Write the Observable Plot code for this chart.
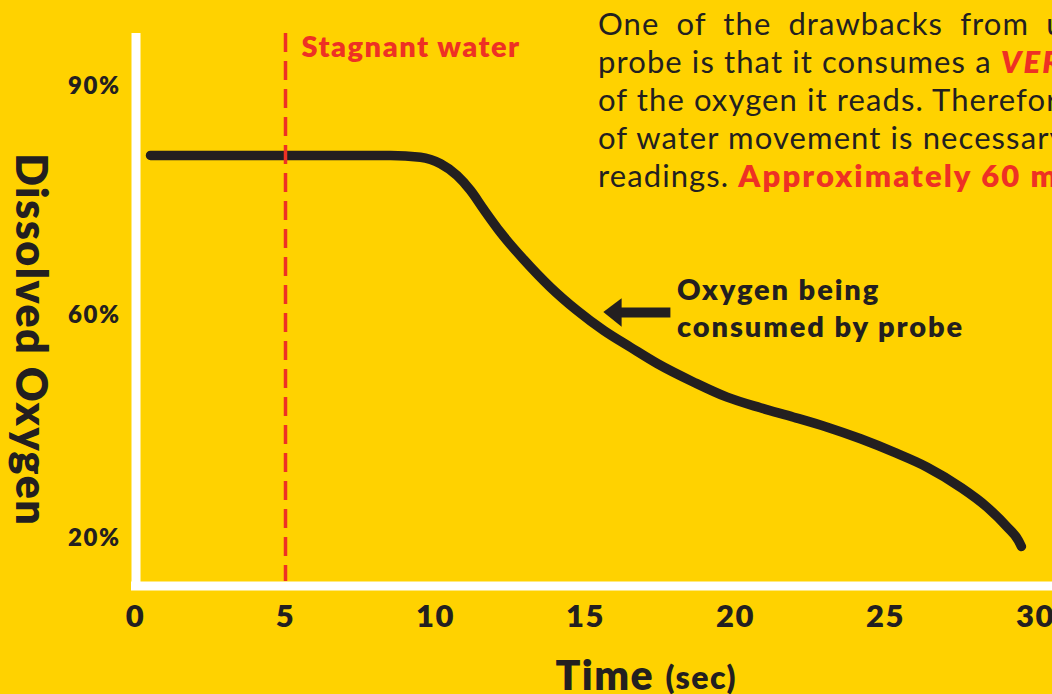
<!DOCTYPE html>
<html>
<head>
<meta charset="utf-8">
<script src="https://cdn.jsdelivr.net/npm/d3@7"></script>
<script src="https://cdn.jsdelivr.net/npm/@observablehq/plot@0.6"></script>
<style>
  html, body { margin: 0; padding: 0; background: #FFD200; overflow: hidden; }
  #wrap { position: relative; width: 1052px; height: 694px; overflow: hidden; background: #FFD200; }
  #chart svg { display: block; }
  .para { position: absolute; left: 598px; top: 4px; font-family: Lato, sans-serif; font-size: 31px; font-weight: 400;
          letter-spacing: 1.1px; color: #231F20; line-height: 38px; white-space: nowrap; }
  .red { color: #EE3124; font-weight: 800; letter-spacing: 2.1px; }
  .anno { position: absolute; left: 677px; top: 270px; font-family: Lato, sans-serif; font-size: 29px; font-weight: 800;
          letter-spacing: 1.9px; color: #231F20; line-height: 37px; white-space: nowrap; }
</style>
</head>
<body>
<div id="wrap">
  <div id="chart"></div>
  <div class="para">
    <div style="word-spacing:8px">One of the drawbacks from using a galvanic</div>
    <div>probe is that it consumes a <span class="red" style="font-style:italic">VERY</span> small amount</div>
    <div>of the oxygen it reads. Therefore a small amount</div>
    <div>of water movement is necessary for accurate</div>
    <div>readings. <span class="red">Approximately 60 ml/min</span></div>
  </div>
  <div class="anno">Oxygen being<br>consumed by probe</div>
</div>
<script>
// ---- data ----
const timeSec   = [0.5, 4.5, 8.5, 9.5, 10.17, 10.72, 11.17, 11.61, 12.17, 12.94, 13.83, 14.72, 15.61, 16.5, 17.39, 18.61, 19.72, 20.83, 21.94, 23.06, 24.17, 25.28, 26.39, 27.5, 28.39, 29.06, 29.43, 29.53];
const oxygenPct = [80.92, 80.92, 80.92, 80.69, 79.83, 78.3, 76.34, 73.86, 70.85, 67.32, 63.7, 60.65, 57.31, 54.31, 51.39, 48.04, 45.35, 43.44, 41.76, 39.96, 37.88, 35.48, 32.79, 29.2, 25.61, 22.03, 19.64, 18.57];
const xTicks = [0, 5, 10, 15, 20, 25, 30];
const yTicks = [20, 60, 90];
const yTickLabels = ["20%", "60%", "90%"];
const stagnantTime = [5];
const stagnantLabel = "Stagnant water";
const xAxisBaseline = [11.5];   // % level where the time axis sits
const yAxisTime = [0];
// annotation arrow (time, %)
const arrowShaft = [{x1: 16.1, x2: 17.83, y: 60.39}];
const arrowHead = [
  {t: 15.61, lo: 60.39, hi: 60.39},
  {t: 16.22, lo: 57.9, hi: 62.2}
];
const yLabel = "Dissolved Oxygen";
const xLabel = "Time";
const xUnit = "(sec)";

const INK = "#231F20", RED = "#EE3124", FONT = "Lato, sans-serif";
const series = timeSec.map((t, i) => ({t, v: oxygenPct[i]}));

const chart = Plot.plot({
  width: 1052,
  height: 694,
  marginTop: 33,
  marginBottom: 108.5,
  marginLeft: 131,
  marginRight: 0,
  style: {background: "transparent", fontFamily: FONT, letterSpacing: "1.5px"},
  x: {domain: [0, 30], range: [135, 1035], axis: null},
  y: {type: "linear", domain: [20, 60, 90], range: [538, 315, 85.5], axis: null},
  marks: [
    Plot.line(series, {x: "t", y: "v", curve: "monotone-x", stroke: INK, strokeWidth: 9.5, strokeLinecap: "round", strokeLinejoin: "round"}),
    Plot.ruleX(stagnantTime, {x: d => d, stroke: RED, strokeWidth: 3.5, strokeDasharray: "19,9", insetBottom: 4.5}),
    Plot.ruleX(yAxisTime, {x: d => d, dx: 0.5, stroke: "#fff", strokeWidth: 9, insetTop: 4.5, strokeLinecap: "square"}),
    Plot.ruleY(xAxisBaseline, {y: d => d, stroke: "#fff", strokeWidth: 9}),
    Plot.link(arrowShaft, {x1: "x1", x2: "x2", y1: "y", y2: "y", stroke: INK, strokeWidth: 10}),
    Plot.areaY(arrowHead, {x: "t", y1: "lo", y2: "hi", fill: INK}),
    Plot.text(xTicks, {x: d => d, frameAnchor: "bottom", lineAnchor: "middle", dy: 31.5, fontSize: 31, fontWeight: 800, fill: INK}),
    Plot.text(yTicks, {y: d => d, text: (d, i) => yTickLabels[i], frameAnchor: "left", textAnchor: "end", lineAnchor: "middle", dx: -11, fontSize: 24, fontWeight: 800, fill: INK}),
    Plot.text([yLabel], {frameAnchor: "left", textAnchor: "middle", lineAnchor: "middle", dx: -102, dy: 30, rotate: 90, fontSize: 43, fontWeight: 800, fill: INK}),
    Plot.text([xLabel], {frameAnchor: "bottom", textAnchor: "start", lineAnchor: "middle", dx: -36.5, dy: 91, fontSize: 41, fontWeight: 800, fill: INK}),
    Plot.text([xUnit], {frameAnchor: "bottom", textAnchor: "start", lineAnchor: "middle", dx: 73.5, dy: 92.5, fontSize: 32, fontWeight: 800, fill: INK}),
    Plot.text([stagnantLabel], {x: () => stagnantTime[0], frameAnchor: "top", textAnchor: "start", lineAnchor: "middle", dx: 16, dy: 14.4, fontSize: 29, fontWeight: 800, fill: RED})
  ]
});
document.getElementById("chart").appendChild(chart);
</script>
</body>
</html>
